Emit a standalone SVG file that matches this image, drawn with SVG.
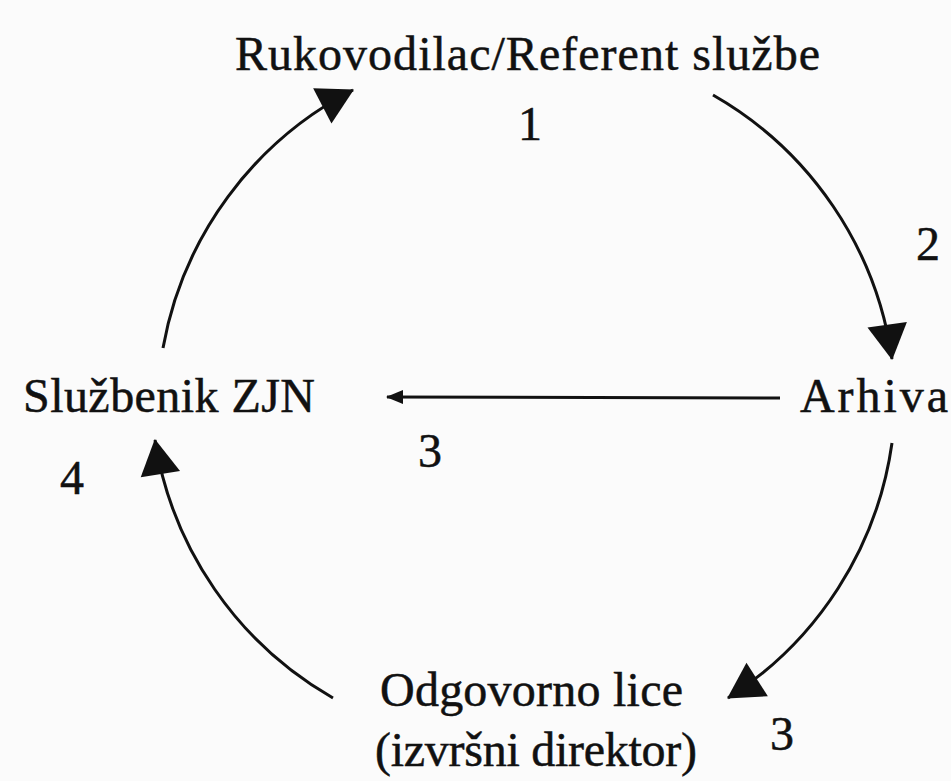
<svg xmlns="http://www.w3.org/2000/svg" width="951" height="781" viewBox="0 0 951 781">
<defs>
<style>
text{font-family:"Liberation Serif","Times New Roman",serif;font-size:48px;fill:#111;stroke:#111;stroke-width:0.5}
.c{fill:none;stroke:#111;stroke-width:3}
</style>
<marker id="big" markerUnits="userSpaceOnUse" markerWidth="40" markerHeight="44" viewBox="0 -21 34 42" refX="33" refY="0" orient="auto">
<path d="M0,-19 L34,0 L0,19 z" fill="#111"/>
</marker>
<marker id="small" markerUnits="userSpaceOnUse" markerWidth="18" markerHeight="16" viewBox="0 -8 17 16" refX="16" refY="0" orient="auto">
<path d="M0,-7 L17,0 L0,7 z" fill="#111"/>
</marker>
</defs>
<rect width="951" height="781" fill="#fbfbfb"/>
<g id="connectors">
<path class="c" d="M163,348 A362,362 0 0 1 353,90" marker-end="url(#big)"/>
<path class="c" d="M713,95 A362,362 0 0 1 892,359" marker-end="url(#big)"/>
<path class="c" d="M892,443 A362,362 0 0 1 728,698" marker-end="url(#big)"/>
<path class="c" d="M333,698 A362,362 0 0 1 155,440" marker-end="url(#big)"/>
<path class="c" d="M780,398 L387,397" marker-end="url(#small)"/>
</g>
<g id="rukovodilac"><text x="235" y="70" textLength="585">Rukovodilac/Referent  službe</text></g>
<g id="arhiva"><text x="800" y="412" textLength="148">Arhiva</text></g>
<g id="odgovorno"><text x="380" y="706" textLength="303">Odgovorno  lice</text><text x="375" y="766" textLength="322">(izvršni direktor)</text></g>
<g id="sluzbenik"><text x="23" y="412" textLength="292">Službenik ZJN</text></g>
<g id="labels">
<text x="518" y="140">1</text>
<text x="916" y="260">2</text>
<text x="418" y="467">3</text>
<text x="60" y="494">4</text>
<text x="770" y="750">3</text>
</g>
</svg>
